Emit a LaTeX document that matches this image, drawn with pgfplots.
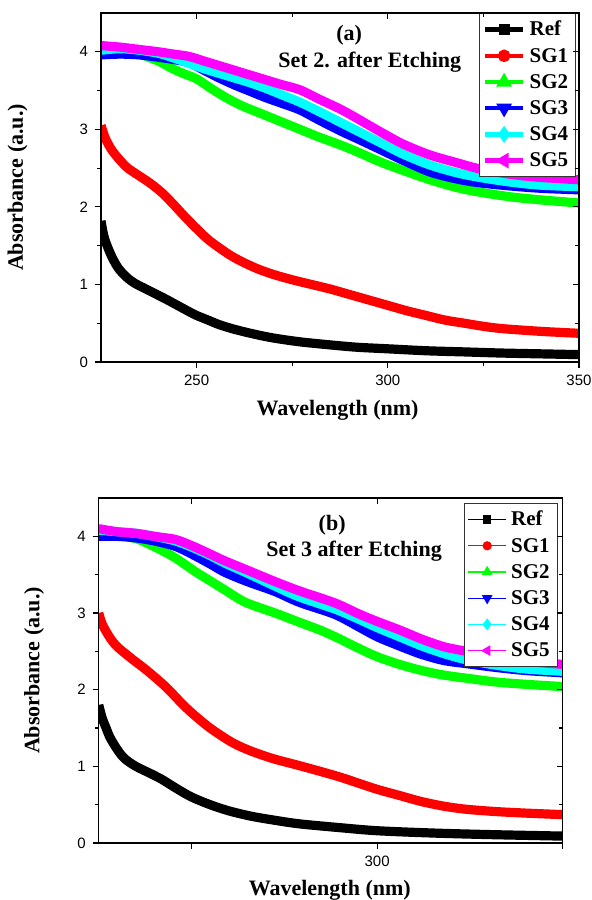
\documentclass[border=0pt]{standalone}
\usepackage{fontspec}
\setmainfont{Liberation Serif}
\newfontfamily\tickfont{Liberation Sans}
\usepackage{pgfplots}
\pgfplotsset{compat=1.18}

\definecolor{cRef}{RGB}{0,0,0}
\definecolor{cSGa}{RGB}{255,0,0}
\definecolor{cSGb}{RGB}{0,255,0}
\definecolor{cSGc}{RGB}{0,0,255}
\definecolor{cSGd}{RGB}{0,255,255}
\definecolor{cSGe}{RGB}{255,0,255}

\pgfplotsset{
  panel/.style={scale only axis, xmin=225, xmax=350, ymin=0, ymax=4.5,
    ytick={0,1,2,3,4}, minor ytick={0.5,1.5,2.5,3.5},
    major tick length=3pt, minor tick length=1.8pt,
    every tick/.style={black, line width=0.6pt},
    axis line style={line width=0.65pt},
    tick label style={font=\tickfont\fontsize{7.5}{9}\selectfont},
    /pgf/number format/assume math mode=true,
    label style={font=\bfseries\fontsize{11}{13}\selectfont},
    tick align=outside, xtick pos=left, ytick pos=left,
    legend cell align=left,
    legend image code/.code={\draw[mark repeat=2,mark phase=2,##1] plot coordinates {(0pt,0pt) (9.5pt,0pt) (19pt,0pt)};},
    legend style={font=\bfseries\fontsize{10.5}{12}\selectfont, draw=black!80, line width=0.5pt,
      inner sep=1.5pt, row sep=0pt,
      nodes={inner xsep=2.2pt, inner ysep=1.8pt, text height=7.9pt, text depth=1.6pt}}},
  mirror/.style={scale only axis, xmin=225, xmax=350, ymin=0, ymax=4.5,
    ytick={0,1,2,3,4}, minor ytick={0.5,1.5,2.5,3.5},
    major tick length=3pt, minor tick length=1.8pt,
    every tick/.style={black, line width=0.6pt},
    axis line style={line width=0.65pt},
    tick align=inside, xtick pos=right, ytick pos=right,
    xticklabels={}, yticklabels={}},
  curve/.style={line width=4.6pt, line join=round, smooth, tension=0.5, forget plot}
}

\begin{document}
\begin{tikzpicture}
\path[use as bounding box] (0,0) rectangle (295.5pt,450pt);

% panel (a)
\begin{axis}[panel, at={(50.5pt,269pt)}, anchor=south west, width=239pt, height=174.5pt,
  xtick={250,300,350}, minor xtick={275,325},
  xlabel={Wavelength (nm)}, ylabel={Absorbance (a.u.)},
  x label style={at={(axis description cs:0.495,-0.138)}, anchor=center},
  y label style={at={(axis description cs:-0.1747,0.5)}, anchor=center},
  legend style={at={(axis description cs:0.994,1)}, anchor=north east}]
\addplot[curve, cRef] coordinates {(225,1.82) (225.5,1.68) (226,1.58) (227,1.45) (228,1.34) (229,1.25) (230,1.18) (232,1.08) (234,1.01) (236,0.96) (238,0.91) (240,0.86) (242,0.81) (245,0.73) (248,0.65) (250,0.60) (253,0.54) (256,0.48) (260,0.42) (265,0.36) (270,0.31) (277,0.26) (285,0.22) (292,0.19) (300,0.17) (310,0.145) (320,0.13) (330,0.115) (340,0.105) (350,0.095)};
\addplot[curve, cSGa] coordinates {(225,3.05) (226,2.9) (227,2.8) (228,2.72) (230,2.6) (232,2.5) (235,2.4) (238,2.3) (241,2.18) (244,2.03) (247,1.87) (250,1.72) (253,1.58) (256,1.47) (259,1.37) (262,1.29) (266,1.2) (270,1.13) (275,1.06) (280,1.0) (285,0.94) (290,0.87) (295,0.8) (300,0.73) (305,0.66) (310,0.6) (315,0.54) (320,0.5) (325,0.46) (330,0.43) (340,0.395) (350,0.37)};
\addplot[curve, cSGb] coordinates {(225,4.03) (230,4.02) (235,3.97) (240,3.88) (243,3.8) (246,3.73) (250,3.65) (254,3.52) (258,3.4) (262,3.3) (266,3.22) (270,3.14) (274,3.06) (277,3.0) (282,2.9) (287,2.81) (292,2.71) (298,2.58) (304,2.47) (311,2.35) (318,2.25) (324,2.19) (332,2.13) (340,2.09) (350,2.05)};
\addplot[curve, cSGc] coordinates {(225,3.96) (230,3.97) (235,3.96) (240,3.93) (244,3.9) (248,3.86) (252,3.76) (256,3.66) (260,3.57) (264,3.49) (268,3.41) (272,3.34) (277,3.25) (282,3.12) (287.6,2.98) (292,2.88) (298,2.74) (304,2.6) (311,2.45) (318,2.36) (324,2.31) (332,2.27) (340,2.24) (350,2.22)};
\addplot[curve, cSGd] coordinates {(225,4.02) (230,4.04) (235,4.02) (240,3.98) (244,3.92) (248,3.85) (252,3.78) (256,3.72) (260,3.66) (264,3.6) (268,3.53) (272,3.45) (277,3.35) (282,3.23) (287.6,3.09) (292,2.98) (298,2.83) (304,2.68) (311,2.54) (318,2.44) (324,2.38) (332,2.32) (340,2.28) (350,2.26)};
\addplot[curve, cSGe] coordinates {(225,4.08) (230,4.06) (235,4.03) (240,4.0) (244,3.97) (248,3.94) (252,3.88) (256,3.82) (260,3.76) (264,3.7) (268,3.64) (272,3.58) (277,3.51) (282,3.39) (287.6,3.26) (292,3.14) (298,2.97) (304,2.81) (311,2.67) (318,2.57) (324,2.49) (332,2.42) (340,2.38) (350,2.35)};
\addlegendimage{cRef, line width=2.2pt, mark=square*, mark size=1.7pt, mark options={solid}}
\addlegendentry{Ref}
\addlegendimage{cSGa, line width=2.2pt, mark=*, mark size=2pt, mark options={solid}}
\addlegendentry{SG1}
\addlegendimage{cSGb, line width=2.2pt, mark=triangle*, mark size=2.4pt, mark options={solid}}
\addlegendentry{SG2}
\addlegendimage{cSGc, line width=2.2pt, mark=triangle*, mark size=2.4pt, mark options={solid, rotate=180}}
\addlegendentry{SG3}
\addlegendimage{cSGd, line width=2.2pt, mark=diamond*, mark size=2.4pt, mark options={solid}}
\addlegendentry{SG4}
\addlegendimage{cSGe, line width=2.2pt, mark=triangle*, mark size=2.4pt, mark options={solid, rotate=90}}
\addlegendentry{SG5}
\node[font=\bfseries\fontsize{11}{13}\selectfont] at (axis cs:289.9,4.22) {(a)};
\node[font=\bfseries\fontsize{11}{13}\selectfont] at (axis cs:295.3,3.87) {Set 2. after Etching};
\end{axis}
\begin{axis}[mirror, at={(50.5pt,269pt)}, anchor=south west, width=239pt, height=174.5pt,
  xtick={250,300,350}, minor xtick={275,325}]
\end{axis}

% panel (b)
\begin{axis}[panel, at={(49.35pt,28.5pt)}, anchor=south west, width=232pt, height=172.5pt,
  xtick={250,300,350}, xticklabels={,300,},
  xlabel={Wavelength (nm)}, ylabel={Absorbance (a.u.)},
  x label style={at={(axis description cs:0.498,-0.137)}, anchor=center},
  y label style={at={(axis description cs:-0.139,0.5)}, anchor=center},
  legend style={at={(axis description cs:0.989,0.9855)}, anchor=north east}]
\addplot[curve, cRef] coordinates {(225,1.8) (226,1.62) (227,1.5) (228,1.38) (230,1.22) (232,1.1) (235,1.0) (238.8,0.91) (242,0.83) (246,0.71) (250,0.6) (255,0.5) (260,0.42) (266,0.35) (272,0.3) (279,0.25) (290,0.2) (300,0.16) (315,0.13) (330,0.11) (350,0.09)};
\addplot[curve, cSGa] coordinates {(225,3.0) (226,2.85) (228,2.68) (230,2.56) (234,2.4) (238,2.25) (243,2.04) (247,1.84) (250,1.7) (255,1.5) (261,1.31) (266,1.2) (272,1.1) (279,1.01) (285,0.93) (290,0.86) (295,0.78) (300,0.7) (306,0.62) (312,0.54) (318,0.48) (324,0.44) (332,0.41) (340,0.39) (350,0.37)};
\addplot[curve, cSGb] coordinates {(225,4.05) (230,4.02) (235,3.97) (237.6,3.92) (241,3.84) (245.6,3.72) (251,3.54) (255,3.42) (259,3.3) (264.5,3.14) (272.5,3.0) (279,2.88) (285,2.77) (290,2.66) (295,2.54) (300,2.43) (306,2.33) (312,2.25) (318,2.19) (324,2.15) (332,2.1) (340,2.07) (350,2.04)};
\addplot[curve, cSGc] coordinates {(225,4.0) (230,4.0) (235,3.98) (240,3.94) (245.6,3.87) (250,3.77) (255,3.64) (259,3.53) (265,3.41) (272.5,3.28) (279,3.14) (288.7,2.98) (295,2.82) (300,2.69) (306,2.57) (312,2.46) (318,2.38) (324,2.34) (332,2.29) (340,2.25) (350,2.22)};
\addplot[curve, cSGd] coordinates {(225,4.08) (230,4.06) (235,4.04) (240,4.0) (245.6,3.94) (250,3.86) (255,3.75) (259,3.65) (265,3.52) (272.5,3.35) (279,3.21) (288.7,3.05) (295,2.92) (300,2.81) (306,2.69) (312,2.57) (318,2.47) (324,2.39) (332,2.32) (340,2.27) (350,2.24)};
\addplot[curve, cSGe] coordinates {(225,4.1) (230,4.06) (235,4.04) (240,4.0) (245.6,3.96) (250,3.88) (255,3.77) (259,3.68) (265,3.56) (272.5,3.41) (279,3.29) (288.7,3.13) (295,2.99) (300,2.89) (306,2.78) (312,2.66) (318,2.56) (324,2.5) (332,2.42) (340,2.37) (350,2.33)};
\addlegendimage{cRef, line width=0.6pt, mark=square*, mark size=1.8pt, mark options={solid}}
\addlegendentry{Ref}
\addlegendimage{cSGa, line width=0.6pt, mark=*, mark size=2pt, mark options={solid}}
\addlegendentry{SG1}
\addlegendimage{cSGb, line width=0.6pt, mark=triangle*, mark size=2.5pt, mark options={solid}}
\addlegendentry{SG2}
\addlegendimage{cSGc, line width=0.6pt, mark=triangle*, mark size=2.5pt, mark options={solid, rotate=180}}
\addlegendentry{SG3}
\addlegendimage{cSGd, line width=0.6pt, mark=diamond*, mark size=2.5pt, mark options={solid}}
\addlegendentry{SG4}
\addlegendimage{cSGe, line width=0.6pt, mark=triangle*, mark size=2.5pt, mark options={solid, rotate=90}}
\addlegendentry{SG5}
\node[font=\bfseries\fontsize{11}{13}\selectfont] at (axis cs:287.9,4.14) {(b)};
\node[font=\bfseries\fontsize{11}{13}\selectfont] at (axis cs:293.8,3.8) {Set 3 after Etching};
\end{axis}
\begin{axis}[mirror, at={(49.35pt,28.5pt)}, anchor=south west, width=232pt, height=172.5pt,
  xtick={250,300,350}]
\end{axis}
\end{tikzpicture}
\end{document}
